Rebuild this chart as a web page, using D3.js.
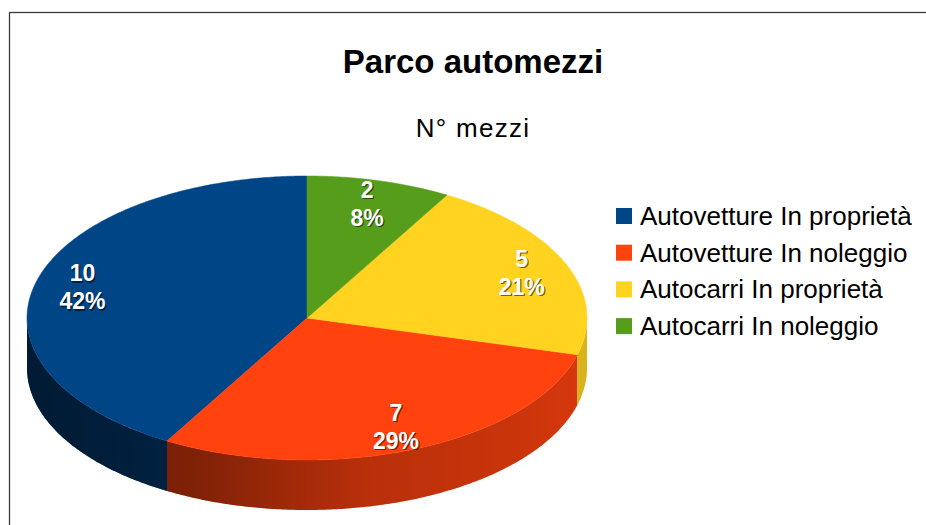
<!DOCTYPE html>
<html>
<head>
<meta charset="utf-8">
<script src="https://cdn.jsdelivr.net/npm/d3@7"></script>
<style>
  body { margin: 0; background: #fff; }
  text { font-family: "Liberation Sans", Arial, sans-serif; }
</style>
</head>
<body>
<div id="chart"></div>
<script>
// chart data
const categories = ["Autovetture In proprietà", "Autovetture In noleggio", "Autocarri In proprietà", "Autocarri In noleggio"];
const values = [10, 7, 5, 2];
const colors = ["#004586", "#ff420e", "#ffd320", "#579d1c"];
const titleText = "Parco automezzi";
const subtitleText = "N° mezzi";

const width = 926, height = 525;

const svg = d3.select("#chart").append("svg")
    .attr("width", width)
    .attr("height", height);

// frame of the chart area
svg.append("rect")
    .attr("x", 9.5).attr("y", 12.5)
    .attr("width", 940).attr("height", 540)
    .attr("fill", "none")
    .attr("stroke", "#3c3c3c")
    .attr("stroke-width", 1.3);

// titles
svg.append("text")
    .attr("x", 473).attr("y", 73)
    .attr("text-anchor", "middle")
    .attr("font-size", 33).attr("font-weight", "bold")
    .attr("fill", "#000")
    .text(titleText);

svg.append("text")
    .attr("x", 473).attr("y", 137)
    .attr("text-anchor", "middle")
    .attr("font-size", 26)
    .attr("letter-spacing", 1.3)
    .attr("fill", "#000")
    .text(subtitleText);

// pie geometry (ellipse for the tilted top + depth of the side)
const cx = 307, cy = 318, rx = 280, ry = 142, depth = 50;
const total = d3.sum(values);

// counter-clockwise from 12 o'clock, like the original
const pie = d3.pie().sort(null).startAngle(0).endAngle(-2 * Math.PI);
const arcs = pie(values);

const color = d3.scaleOrdinal().domain(categories).range(colors);

const px = (a, f = 1) => cx + f * rx * Math.sin(a);
const py = (a, f = 1) => cy - f * ry * Math.cos(a);

function sample(a0, a1) {
    const n = Math.max(2, Math.ceil(Math.abs(a1 - a0) / 0.01));
    return d3.range(n + 1).map(i => a0 + (a1 - a0) * i / n);
}

const line = d3.line();

const defs = svg.append("defs");

// shading of the side wall: darker toward the edges
const shade = defs.append("linearGradient")
    .attr("id", "sideShade")
    .attr("gradientUnits", "userSpaceOnUse")
    .attr("x1", cx - rx).attr("x2", cx + rx)
    .attr("y1", 0).attr("y2", 0);
shade.append("stop").attr("offset", "0%").attr("stop-color", "#000").attr("stop-opacity", 0.62);
shade.append("stop").attr("offset", "30%").attr("stop-color", "#000").attr("stop-opacity", 0.5);
shade.append("stop").attr("offset", "60%").attr("stop-color", "#000").attr("stop-opacity", 0.28);
shade.append("stop").attr("offset", "90%").attr("stop-color", "#000").attr("stop-opacity", 0.2);
shade.append("stop").attr("offset", "100%").attr("stop-color", "#000").attr("stop-opacity", 0.15);

const sideG = svg.append("g");
const topG = svg.append("g");
const labelG = svg.append("g");

// front half of the ellipse is between -3π/2 and -π/2
const frontLo = -1.5 * Math.PI, frontHi = -0.5 * Math.PI;

arcs.forEach((d, i) => {
    const hi = Math.min(d.startAngle, frontHi);
    const lo = Math.max(d.endAngle, frontLo);
    if (hi <= lo) return;
    const topEdge = sample(hi, lo).map(a => [px(a), py(a)]);
    const botEdge = sample(lo, hi).map(a => [px(a), py(a) + depth]);
    const pathD = line(topEdge.concat(botEdge)) + "Z";
    sideG.append("path")
        .attr("d", pathD)
        .attr("fill", color(categories[i]));
    sideG.append("path")
        .attr("d", pathD)
        .attr("fill", "url(#sideShade)");
});

// top surfaces
arcs.forEach((d, i) => {
    const pts = [[cx, cy]].concat(sample(d.startAngle, d.endAngle).map(a => [px(a), py(a)]));
    topG.append("path")
        .attr("d", line(pts) + "Z")
        .attr("fill", color(categories[i]))
        .attr("stroke", color(categories[i]))
        .attr("stroke-width", 0.5);
});

// data labels: value + percentage
const pct = d3.format(".0%");
arcs.forEach((d, i) => {
    const mid = (d.startAngle + d.endAngle) / 2;
    const x = px(mid, 0.83), y = py(mid, 0.83);
    const lines = [d.data, pct(d.data / total)];
    [["rgba(0,0,0,0.55)", 1.2], ["#fff", 0]].forEach(([fill, off]) => {
        const t = labelG.append("text")
            .attr("text-anchor", "middle")
            .attr("font-size", 23)
            .attr("font-weight", "bold")
            .attr("fill", fill);
        lines.forEach((s, k) => {
            t.append("tspan")
                .attr("x", x + off)
                .attr("y", y - 6 + k * 28 + off)
                .text(s);
        });
    });
});

// legend
const legend = svg.append("g").attr("transform", "translate(616,208)");
categories.forEach((c, i) => {
    const row = legend.append("g").attr("transform", `translate(0,${i * 36.7})`);
    row.append("rect")
        .attr("width", 16).attr("height", 16)
        .attr("fill", color(c));
    row.append("text")
        .attr("x", 24).attr("y", 17)
        .attr("font-size", 26)
        .attr("fill", "#000")
        .text(c);
});
</script>
</body>
</html>
